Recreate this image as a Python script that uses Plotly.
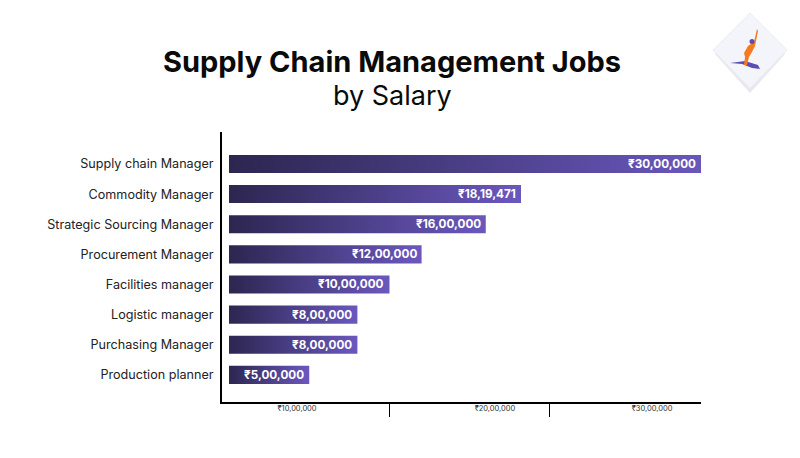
import plotly.graph_objects as go

categories = ["Supply chain Manager", "Commodity Manager", "Strategic Sourcing Manager",
              "Procurement Manager", "Facilities manager", "Logistic manager",
              "Purchasing Manager", "Production planner"]
salaries = [3000000, 1819471, 1600000, 1200000, 1000000, 800000, 800000, 500000]
tick_values = [1000000, 2000000]
tick_labels = ["₹10,00,000", "₹20,00,000", "₹30,00,000"]


def inr(v):
    s = str(int(v))
    last3, rest = s[-3:], s[:-3]
    parts = []
    while len(rest) > 2:
        parts.insert(0, rest[-2:])
        rest = rest[:-2]
    if rest:
        parts.insert(0, rest)
    return "₹" + ",".join(parts + [last3])


FONT = "Inter"
C0, C1 = "#2c2650", "#6b58bf"

# plot area in pixels
L, R, T, B = 222, 701, 132, 402
W, H = 800, 458
n = len(categories)
ypos = [n - 1 - i for i in range(n)]
half = 0.3

# axis range: zero 7px right of the axis line, ticks at 10L / 20L as in the reference
xrange_ = [-0.436e5, 29.41e5]
xmax = xrange_[1]
label_pos = [4.24e5, 16.57e5, 26.36e5]

fig = go.Figure()
for v, y in zip(salaries, ypos):
    fig.add_trace(go.Scatter(
        x=[0, v, v, 0, 0], y=[y - half, y - half, y + half, y + half, y - half],
        mode="lines", fill="toself", line=dict(width=0),
        fillgradient=dict(type="horizontal", colorscale=[[0, C0], [1, C1]]),
        hoverinfo="skip", showlegend=False))

for v, y in zip(salaries, ypos):
    fig.add_annotation(x=min(v, xmax), y=y, xref="x", yref="y", text="<b>" + inr(v) + "</b>",
                       showarrow=False, xanchor="right", yanchor="middle", xshift=-3,
                       font=dict(family=FONT, size=11.7, color="white"))

# invisible trace on second x-axis for the offset tick labels
fig.add_trace(go.Scatter(x=[0], y=[0], xaxis="x2", mode="markers",
                         marker=dict(opacity=0), showlegend=False, hoverinfo="skip"))

fig.update_layout(
    width=W, height=H,
    paper_bgcolor="white", plot_bgcolor="white",
    margin=dict(l=L, r=W - R, t=T, b=H - B),
    xaxis=dict(range=xrange_, showgrid=False, zeroline=False, showline=True,
               linecolor="black", linewidth=2, tickvals=tick_values,
               ticks="outside", ticklen=13, tickwidth=1, tickcolor="black",
               showticklabels=False, fixedrange=True),
    xaxis2=dict(range=xrange_, overlaying="x", anchor="y", side="bottom",
                showgrid=False, zeroline=False, showline=False,
                tickvals=label_pos, ticktext=tick_labels, ticks="",
                tickfont=dict(family=FONT, size=7.5, color="#333333")),
    yaxis=dict(range=[-0.9, n - 1 + 1.06], showgrid=False, zeroline=False,
               showline=True, linecolor="black", linewidth=2,
               tickvals=ypos, ticktext=categories, ticks="",
               ticklabelstandoff=4,
               tickfont=dict(family=FONT, size=12.6, color="#222222")),
)

fig.add_annotation(text="<b>Supply Chain Management Jobs</b>", xref="paper", yref="paper",
                   x=(392 - L) / (R - L), y=(B - 62) / (B - T), xanchor="center",
                   yanchor="middle", showarrow=False,
                   font=dict(family=FONT, size=29, color="#0a0a0a"))
fig.add_annotation(text="by Salary", xref="paper", yref="paper",
                   x=(392 - L) / (R - L), y=(B - 95) / (B - T), xanchor="center",
                   yanchor="middle", showarrow=False,
                   font=dict(family=FONT, size=27, color="#0a0a0a"))


def px(x, y):
    return (x - L) / (R - L), (B - y) / (B - T)


def path(points, close=True):
    s = ""
    for i, (x, y) in enumerate(points):
        a, b = px(x, y)
        s += ("M" if i == 0 else "L") + f"{a:.4f},{b:.4f}"
    return s + ("Z" if close else "")


# logo: diamond with shadow
fig.add_shape(type="path", xref="paper", yref="paper",
              path=path([(750, 17), (785, 54), (750, 93), (715, 54)]),
              fillcolor="#e8e8ee", line=dict(width=0))
fig.add_shape(type="path", xref="paper", yref="paper",
              path=path([(750, 13), (787, 50), (750, 88), (713, 50)]),
              fillcolor="#f4f5fb", line=dict(color="#eceef6", width=1))
# surfboard
fig.add_shape(type="path", xref="paper", yref="paper",
              path=path([(730, 63), (745, 61), (758, 65), (760, 69), (752, 68), (742, 64)]),
              fillcolor="#5a4fb0", line=dict(width=0))
# orange figure
fig.add_shape(type="path", xref="paper", yref="paper",
              path=path([(757, 29), (758, 31), (755, 46), (752, 52), (749, 57), (747, 65),
                         (744, 65), (745, 57), (744, 53), (748, 46), (754, 42)]),
              fillcolor="#f47b20", line=dict(width=0))
x0, y0 = px(749.5, 39)
x1, y1 = px(754.5, 44)
fig.add_shape(type="circle", xref="paper", yref="paper", x0=x0, y0=y1, x1=x1, y1=y0,
              fillcolor="#5a4fb0", line=dict(width=0))

fig.write_html("out.html", config={"displayModeBar": False},
               post_script="document.body.style.margin='0';")
